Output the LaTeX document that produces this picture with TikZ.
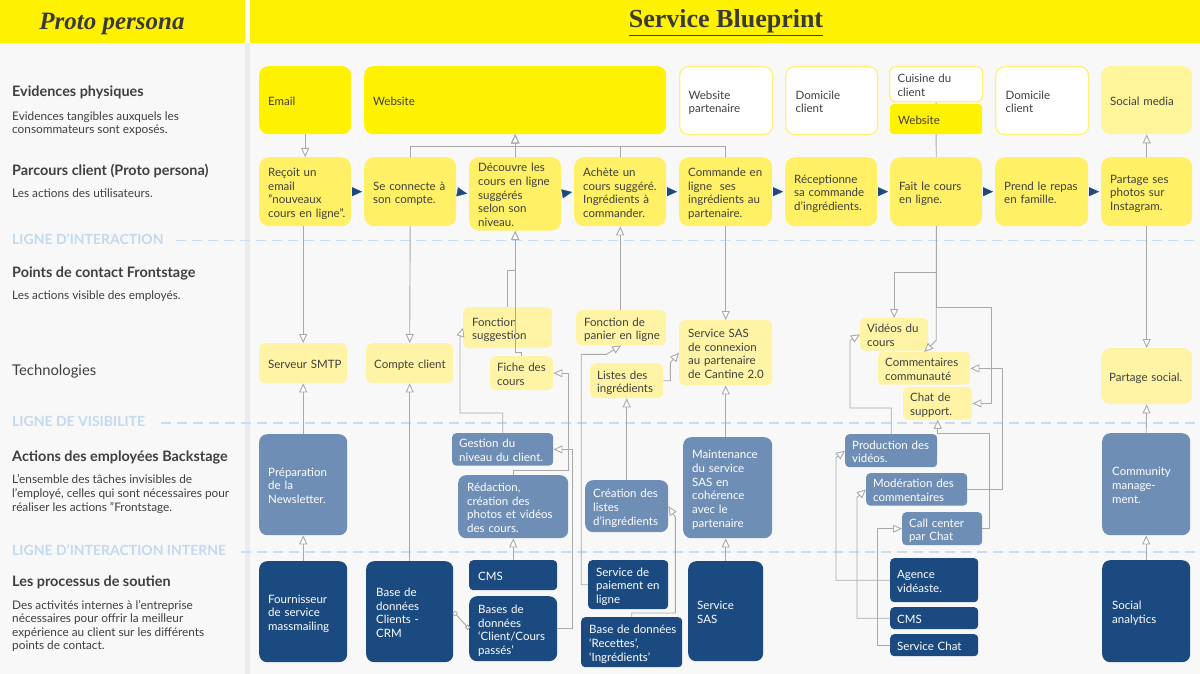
\documentclass[tikz,border=0pt]{standalone}
\usepackage{fontspec}
\setmainfont{Lato}
\newfontfamily\headfont{Liberation Serif}
\usetikzlibrary{arrows.meta,calc}
\definecolor{bgc}{HTML}{F8F8F9}
\definecolor{hy}{HTML}{FFF200}
\definecolor{htxt}{HTML}{3A3A3A}
\definecolor{strip}{HTML}{EBEBED}
\definecolor{txt}{HTML}{3F3F3F}
\definecolor{evy}{HTML}{FFF200}
\definecolor{evb}{HTML}{FFF27A}
\definecolor{evp}{HTML}{FFF59A}
\definecolor{pky}{HTML}{FFF066}
\definecolor{fsy}{HTML}{FFF4A6}
\definecolor{bsc}{HTML}{6F8EB5}
\definecolor{spc}{HTML}{1A4A7F}
\definecolor{cgrey}{HTML}{A9A9A9}
\definecolor{dashc}{HTML}{C9DDF0}
\definecolor{lblc}{HTML}{C3D9EE}
\definecolor{navy}{HTML}{1C4A80}
\pgfdeclarelayer{back}
\pgfsetlayers{back,main}
\newcommand\bxx[8]{%
  \pgfmathsetmacro\bxtw{#5-2*#7}%
  \node[#2, anchor=north west, minimum width=#5pt, minimum height=#6pt,
        inner xsep=#7pt, text width=\bxtw pt] (#1) at (#3,#4)
        {\noindent\begin{tabular}{@{}l@{}}\rule{0pt}{14.6pt}#8\end{tabular}};}
\newcommand\lefttxt[4]{\node[#3, anchor=base west, inner sep=0pt] (#1) at (12,#2) {#4};}
\begin{document}
\begin{tikzpicture}[x=1pt,y=-1pt,
  bx/.style={font=\fontsize{11.5}{13.7}\selectfont, text=txt, inner ysep=0pt, align=left},
  ev/.style={bx, fill=evy, rounded corners=9pt},
  evs/.style={bx, fill=evy, rounded corners=3pt},
  evw/.style={bx, fill=white, draw=evb, line width=1.3pt, rounded corners=9pt},
  evws/.style={bx, fill=white, draw=evb, line width=1.3pt, rounded corners=6pt},
  evpl/.style={bx, fill=evp, rounded corners=9pt},
  pk/.style={bx, fill=pky, rounded corners=10pt},
  fs/.style={bx, fill=fsy, rounded corners=6pt},
  fsl/.style={bx, fill=fsy, rounded corners=9pt},
  fss/.style={bx, fill=fsy, rounded corners=4pt},
  bsb/.style={bx, fill=bsc, rounded corners=8pt, text=white},
  bss/.style={bx, fill=bsc, rounded corners=4pt, text=white},
  spb/.style={bx, fill=spc, rounded corners=8pt, text=white},
  sps/.style={bx, fill=spc, rounded corners=4pt, text=white},
  arr/.style={draw=cgrey, line width=0.9pt, -{Triangle[length=9pt, width=8pt, fill=white]}},
  plain/.style={draw=cgrey, line width=0.9pt},
  assoc/.style={draw=cgrey, line width=0.9pt, {Circle[length=5pt, width=5pt, fill=white]}-{Square[length=4pt, width=4pt, fill=white]}},
  flow/.style={draw=navy, fill=navy, line width=0.3pt, -{Triangle[length=10pt, width=9pt]}, shorten >=2pt, shorten <=1pt},
  dl/.style={draw=dashc, line width=1.6pt, dash pattern=on 10pt off 6pt},
  ttl/.style={font=\fontsize{14.4}{16}\selectfont\bfseries, text=txt},
  tec/.style={font=\fontsize{14.8}{16}\selectfont, text=txt},
  dsc/.style={font=\fontsize{11.8}{13}\selectfont, text=txt},
  lbl/.style={font=\fontsize{14}{16}\selectfont\bfseries, text=lblc}
]
\useasboundingbox (0,0) rectangle (1200,674);
\begin{pgfonlayer}{back}
  \fill[bgc] (0,0) rectangle (1200,674);
  \fill[hy] (0,0) rectangle (245,43);
  \fill[hy] (250,0) rectangle (1200,43);
  \fill[white] (245,0) rectangle (250,43);
  \fill[strip] (245,43) rectangle (250,674);
\end{pgfonlayer}

% header
\node[font=\headfont\bfseries\itshape\fontsize{25}{28}\selectfont, text=htxt, anchor=base] (pp) at (112,30) {Proto persona};
\node[font=\headfont\bfseries\fontsize{26}{30}\selectfont, text=htxt, anchor=base] (sb) at (726,28) {\underline{Service Blueprint}};

% left column
\lefttxt{t1}{97}{ttl}{Evidences physiques}
\lefttxt{d1a}{120.5}{dsc}{Evidences tangibles auxquels les}
\lefttxt{d1b}{134}{dsc}{consommateurs sont exposés.}
\lefttxt{t2}{175.5}{ttl}{Parcours client (Proto persona)}
\lefttxt{d2}{197.5}{dsc}{Les actions des utilisateurs.}
\lefttxt{l1}{244.3}{lbl}{LIGNE D'INTERACTION}
\lefttxt{t3}{277.3}{ttl}{Points de contact Frontstage}
\lefttxt{d3}{299}{dsc}{Les actions visible des employés.}
\lefttxt{t4}{375.7}{tec}{Technologies}
\lefttxt{l2}{426.7}{lbl}{LIGNE DE VISIBILITE}
\lefttxt{t5}{461.7}{ttl}{Actions des employées Backstage}
\lefttxt{d5a}{483.3}{dsc}{L'ensemble des tâches invisibles de}
\lefttxt{d5b}{497.7}{dsc}{l'employé, celles qui sont nécessaires pour}
\lefttxt{d5c}{511}{dsc}{réaliser les actions "Frontstage.}
\lefttxt{l3}{555.7}{lbl}{LIGNE D'INTERACTION INTERNE}
\lefttxt{t6}{586.7}{ttl}{Les processus de soutien}
\lefttxt{d6a}{609.3}{dsc}{Des activités internes à l'entreprise}
\lefttxt{d6b}{622.7}{dsc}{nécessaires pour offrir la meilleur}
\lefttxt{d6c}{636}{dsc}{expérience au client sur les différents}
\lefttxt{d6d}{649}{dsc}{points de contact.}

\begin{pgfonlayer}{back}
  \path (l1.base east) ++(12,-4) coordinate (l1s);
  \path (l2.base east) ++(16,-4) coordinate (l2s);
  \path (l3.base east) ++(15,-4) coordinate (l3s);
  \draw[dl] (l1s) -- (l1s -| 1200,0);
  \draw[dl] (l2s) -- (l2s -| 1200,0);
  \draw[dl] (l3s) -- (l3s -| 1200,0);
\end{pgfonlayer}

% evidences
\bxx{email}{ev}{259}{66}{92}{68}{9}{Email}
\bxx{web}{ev}{364}{66}{302}{68}{9}{Website}
\bxx{webp}{evw}{679}{66}{93}{68}{9}{Website\\partenaire}
\bxx{dom1}{evw}{785}{66}{92}{68}{10}{Domicile\\client}
\bxx{cuis}{evws}{889}{66}{93}{35}{8}{Cuisine du\\client}
\bxx{webc}{evs}{890}{104}{92}{30}{8}{Website}
\bxx{dom2}{evw}{995}{66}{93}{68}{10}{Domicile\\client}
\bxx{socm}{evpl}{1101}{66}{91}{68}{9}{Social media}

% parcours
\bxx{p1}{pk}{259}{157}{92}{69}{9}{Reçoit un\\email\\"nouveaux\\cours en ligne".}
\bxx{p2}{pk}{364}{157}{92}{69}{9}{Se connecte à\\son compte.}
\bxx{p3}{pk}{469}{157}{92}{69}{9}{Découvre les\\cours en ligne\\suggérés\\selon son\\niveau.}
\bxx{p4}{pk}{574}{157}{92}{69}{9}{Achète un\\cours suggéré.\\Ingrédients à\\commander.}
\bxx{p5}{pk}{679}{157}{93}{69}{9}{Commande en\\ligne~ ses\\ingrédients au\\partenaire.}
\bxx{p6}{pk}{785}{157}{92}{69}{9}{Réceptionne\\sa commande\\d'ingrédients.}
\bxx{p7}{pk}{890}{157}{92}{69}{9}{Fait le cours\\en ligne.}
\bxx{p8}{pk}{995}{157}{93}{69}{9}{Prend le repas\\en famille.}
\bxx{p9}{pk}{1101}{157}{91}{69}{9}{Partage ses\\photos sur\\Instagram.}

% frontstage / technologies
\bxx{smtp}{fs}{259}{343}{88}{40}{9}{Serveur SMTP}
\bxx{cpt}{fs}{366}{343}{87}{40}{8}{Compte client}
\bxx{fsug}{fs}{463}{307}{89}{41}{9}{Fonction\\suggestion}
\bxx{fiche}{fs}{490}{356}{63}{34}{7}{Fiche des\\cours}
\bxx{fpan}{fs}{576}{310}{90}{35}{8}{Fonction de\\panier en ligne}
\bxx{list}{fs}{590}{363}{73}{35}{7}{Listes des\\ingrédients}
\bxx{sas}{fs}{679}{320}{93}{65}{9}{Service SAS\\de connexion\\au partenaire\\de Cantine 2.0}
\bxx{vid}{fss}{860}{318}{68}{28}{7}{Vidéos du\\cours}
\bxx{comm}{fss}{878}{352}{92}{28}{7}{Commentaires\\communauté}
\bxx{chat}{fss}{903}{387}{69}{28}{7}{Chat de\\support.}
\bxx{psoc}{fsl}{1101}{348}{91}{56}{8}{Partage social.}

% backstage
\bxx{prep}{bsb}{259}{434}{88}{101}{9}{Préparation\\de la\\Newsletter.}
\bxx{gest}{bss}{452}{433}{101}{32}{7}{Gestion du\\niveau du client.}
\bxx{red}{bsb}{458}{475}{110}{63}{9}{Rédaction,\\création des\\photos et vidéos\\des cours.}
\bxx{crel}{bsb}{585}{480}{83}{52}{8}{Création des\\listes\\d'ingrédients}
\bxx{mnt}{bsb}{683}{437}{89}{101}{9}{Maintenance\\du service\\SAS en\\cohérence\\avec le\\partenaire}
\bxx{prod}{bss}{845}{434}{92}{33}{7}{Production des\\vidéos.}
\bxx{mod}{bss}{866}{473}{101}{32}{7}{Modération des\\commentaires}
\bxx{call}{bss}{902}{512}{80}{33}{7}{Call center\\par Chat}
\bxx{cmty}{bsb}{1102}{433}{88}{102}{10}{Community\\manage-\\ment.}

% support
\bxx{four}{spb}{259}{561}{88}{101}{9}{Fournisseur\\de service\\massmailing}
\bxx{crm}{spb}{366}{561}{87}{101}{10}{Base de\\données\\Clients -\\CRM}
\bxx{cms1}{sps}{469}{560}{88}{30}{9}{CMS}
\bxx{bdc}{spb}{469}{596}{88}{65}{9}{Bases de\\données\\`Client/Cours\\passés'}
\bxx{pay}{sps}{588}{560}{80}{49}{8}{Service de\\paiement en\\ligne}
\bxx{bdr}{sps}{581}{617}{101}{50}{8}{Base de données\\`Recettes',\\`Ingrédients'}
\bxx{ssas}{spb}{688}{561}{75}{100}{9}{Service\\SAS}
\bxx{agen}{sps}{890}{558}{88}{44}{7}{Agence\\vidéaste.}
\bxx{cms2}{sps}{890}{607}{88}{22}{7}{CMS}
\bxx{schat}{sps}{890}{634}{88}{22}{7}{Service Chat}
\bxx{sana}{spb}{1102}{560}{88}{102}{10}{Social\\analytics}

% line behind the website box
\begin{pgfonlayer}{back}
  \draw[plain] (cuis.south) -- (p7.north);
\end{pgfonlayer}

% flow arrows of the journey
\foreach \a/\b in {p1/p2,p2/p3,p3/p4,p4/p5,p5/p6,p6/p7,p7/p8,p8/p9}
  \draw[flow] (\a.east) -- (\b.west);

% connectors
\coordinate (wj) at ($(web.south)+(0,12)$);
\draw[arr] (email.south) -- (p1.north);
\draw[arr] (p2.north) |- (wj) -- (web.south);
\draw[arr] (p3.north) -- (web.south);
\draw[arr] (p4.north) |- (wj) -- (web.south);
\draw[arr] (p5.north) |- (wj) -- (web.south);
\draw[arr] (smtp.north |- p1.south) -- (smtp.north);
\draw[arr] (p2.south) -- (cpt.north);
\draw[arr] (prep.north) -- (smtp.south);
\draw[arr] (four.north) -- (prep.south);
\draw[arr] (crm.north) -- (cpt.south);
\draw[arr] (fsug.north) |- ($(p3.south)+(0,40)$) -- (p3.south);
\draw[arr] (fiche.north) -- ++(0,-4) -| (p3.south);
\draw[arr] (p4.south |- fpan.north) -- (p4.south);
\draw[arr] (p5.south) -- (sas.north);
\draw[arr] (list.east) -- ++(7,0) -- ++(0,-18) -- (sas.west);
\draw[arr] (crel.north) -- (list.south);
\draw[arr] (sas.south |- mnt.north) -- (sas.south);
\draw[arr] (ssas.north) -- (ssas.north |- mnt.south);
\draw[arr] (gest.north) -- ++(0,-20) -| ($(fsug.west)+(-3,10)$) -- (fsug.west);
\draw[arr] (red.north) -- ++(0,-5) -| ($(fiche.east)+(15,0)$) -- (fiche.east);
\draw[arr] (bdc.east) -| ($(gest.east)+(19,0)$) -- (gest.east);
\draw[arr] (cms1.north) -- (red.south);
\draw[assoc] (crm.east) -- (bdc.west);
\draw[arr] (pay.west) -| ($(fpan.south)+(-40,9)$) -- ($(fpan.south)+(-15,9)$) -- (fpan.south);
\draw[arr] (bdr.north) -- ++(0,-4) -| ($(crel.east)+(7,11)$) -- (crel.east);
\draw[arr] (p7.south) -- ++(0,46) -| (vid.north);
\draw[arr] (p7.south) -- ++(0,114) -- (comm.north);
\draw[arr] (p7.south) -- ++(0,81) -| ($(chat.east)+(19,0)$) -- (chat.east);
\draw[arr] (prod.north) -- ++(0,-26) -| ($(vid.west)+(-10,6)$) -- (vid.west);
\draw[arr] (agen.west) -| ($(prod.west)+(-9,7)$) -- (prod.west);
\draw[arr] (cms2.west) -| ($(mod.west)+(-9,8)$) -- (mod.west);
\draw[arr] (schat.west) -| ($(call.west)+(-25,0)$) -- (call.west);
\draw[arr] (mod.east) -| ($(comm.east)+(32,0)$) -- (comm.east);
\draw[arr] (call.east) -| ($(chat.south)+(52,14)$) -| (chat.south);
\draw[arr] (p9.north) -- (socm.south);
\draw[arr] (p9.south) -- (psoc.north);
\draw[arr] (cmty.north) -- (psoc.south);
\draw[arr] (sana.north) -- (cmty.south);
\end{tikzpicture}
\end{document}
